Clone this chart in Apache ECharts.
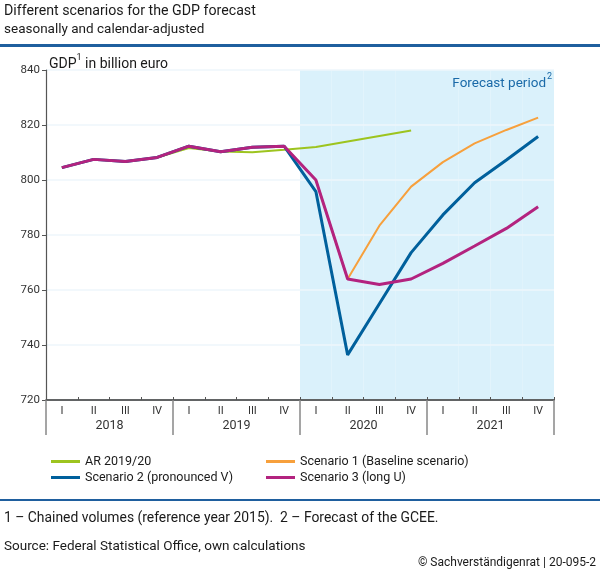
<!DOCTYPE html>
<html>
<head>
<meta charset="utf-8">
<script src="https://cdn.jsdelivr.net/npm/echarts@6/dist/echarts.min.js"></script>
<style>html,body{margin:0;padding:0;background:#fff;}#c{width:600px;height:573px;}</style>
</head>
<body>
<div id="c"></div>
<script>
var quarters = ['2018-I','2018-II','2018-III','2018-IV','2019-I','2019-II','2019-III','2019-IV','2020-I','2020-II','2020-III','2020-IV','2021-I','2021-II','2021-III','2021-IV'];
var years = ['2018','2019','2020','2021'];
var arSeries = [804.5,807.5,806.7,808.2,811.6,810.4,810.1,811.0,812,814,816,818,null,null,null,null];
var scenario1 = [804.5,807.5,806.7,808.2,812.3,810.3,811.9,812.3,800,764,783.4,797.6,806.5,813.3,818.2,822.7];
var scenario2 = [804.5,807.5,806.7,808.2,812.3,810.3,811.9,812.3,795.8,736.4,755,773.6,787.3,799,807.3,815.8];
var scenario3 = [804.5,807.5,806.7,808.2,812.3,810.3,811.9,812.3,800,764,762,764,769.7,776,782.4,790.3];
var forecastShade = [null,null,null,null,null,null,null,null,840,840,840,840,840,840,840,840];
var yTicks = {min:720, max:840, interval:20};

var FONT = 'Roboto, "Liberation Sans", sans-serif';
var TXT = '#1a1a1a';
var chart = echarts.init(document.getElementById('c'));
chart.setOption({
  animation:false,
  textStyle:{fontFamily:FONT},
  grid:{left:46, right:46, top:70, bottom:173, containLabel:false},
  title:[
    {text:'Different scenarios for the GDP forecast', left:4, top:4, padding:0, textStyle:{fontSize:14.2, fontWeight:'normal', color:TXT, fontFamily:FONT}},
    {text:'seasonally and calendar-adjusted', left:4, top:23, padding:0, textStyle:{fontSize:13.5, fontWeight:'normal', color:TXT, fontFamily:FONT}},
    {text:'1 – Chained volumes (reference year 2015).  2 – Forecast of the GCEE.', left:4, top:512, padding:0, textStyle:{fontSize:13.9, fontWeight:'normal', color:TXT, fontFamily:FONT}},
    {text:'Source: Federal Statistical Office, own calculations', left:4, top:540, padding:0, textStyle:{fontSize:13.5, fontWeight:'normal', color:TXT, fontFamily:FONT}},
    {text:'© Sachverständigenrat | 20-095-2', right:4, top:557, padding:0, textStyle:{fontSize:12, fontWeight:'normal', color:TXT, fontFamily:FONT}}
  ],
  graphic:[
    {type:'rect', z:10, shape:{x:0, y:44, width:600, height:3}, style:{fill:'#1f5f9e'}},
    {type:'rect', z:10, shape:{x:0, y:499, width:600, height:2}, style:{fill:'#1f5f9e'}},
    {type:'text', z:10, x:49, y:62, style:{text:'{a|GDP}{s|1}{a| in billion euro}', verticalAlign:'middle',
      rich:{a:{fontSize:14, fontFamily:FONT, fill:TXT, lineHeight:18, verticalAlign:'bottom'}, s:{fontSize:9, fontFamily:FONT, fill:TXT, lineHeight:18, verticalAlign:'top'}}}},
    {type:'text', z:10, x:546, y:84, style:{text:'Forecast period', align:'right', verticalAlign:'middle', fontSize:13.5, fontFamily:FONT, fill:'#1a6aa8'}},
    {type:'text', z:10, x:547, y:77, style:{text:'2', align:'left', verticalAlign:'middle', fontSize:9, fontFamily:FONT, fill:'#1a6aa8'}}
  ],
  legend:[
    {orient:'vertical', left:51, top:455, itemWidth:29, itemHeight:3, itemGap:3, icon:'rect', padding:0,
     data:['AR 2019/20','Scenario 2 (pronounced V)'], textStyle:{fontSize:12.5, color:TXT, lineHeight:13, fontFamily:FONT}},
    {orient:'vertical', left:266, top:455, itemWidth:29, itemHeight:3, itemGap:3, icon:'rect', padding:0,
     data:['Scenario 1 (Baseline scenario)','Scenario 3 (long U)'], textStyle:{fontSize:12.5, color:TXT, lineHeight:13, fontFamily:FONT}}
  ],
  xAxis:[
    {type:'category', data:quarters, position:'bottom', boundaryGap:true, z:5,
     axisLine:{show:true, lineStyle:{color:'#333', width:1.5}},
     axisTick:{show:true, inside:true, length:3, interval:0, lineStyle:{color:'#555'}},
     axisLabel:{interval:0, margin:6, fontSize:11, color:'#333', formatter:function(v){return v.split('-')[1];}},
     splitLine:{show:false}},
    {type:'category', data:years, position:'bottom', boundaryGap:true, z:5,
     axisLine:{show:false},
     axisTick:{show:true, length:35, interval:0, lineStyle:{color:'#888', width:1.5}},
     axisLabel:{interval:0, margin:19, fontSize:12.5, color:'#333'},
     splitLine:{show:false}}
  ],
  yAxis:{type:'value', min:yTicks.min, max:yTicks.max, interval:yTicks.interval, z:2,
    axisLine:{show:true, lineStyle:{color:'#555', width:1.2}},
    axisTick:{show:true, length:4, lineStyle:{color:'#555'}},
    axisLabel:{fontSize:11.5, color:'#333', margin:6},
    splitLine:{show:true, lineStyle:{color:'#eef6fb', width:1.5}}},
  series:[
    {name:'shade', type:'bar', data:forecastShade, barWidth:'100%', barGap:'-100%', z:1, silent:true,
     itemStyle:{color:'#daf1fb'}},
    {name:'AR 2019/20', type:'line', data:arSeries, symbol:'none', z:3, color:'#9dc41f',
     lineStyle:{width:2, color:'#9dc41f'}},
    {name:'Scenario 1 (Baseline scenario)', type:'line', data:scenario1, symbol:'none', z:3, color:'#f7a03c',
     lineStyle:{width:2, color:'#f7a03c'}},
    {name:'Scenario 2 (pronounced V)', type:'line', data:scenario2, symbol:'none', z:3, color:'#00609c',
     lineStyle:{width:3, color:'#00609c'}},
    {name:'Scenario 3 (long U)', type:'line', data:scenario3, symbol:'none', z:3, color:'#b3237f',
     lineStyle:{width:3, color:'#b3237f'}}
  ]
});
</script>
</body>
</html>
